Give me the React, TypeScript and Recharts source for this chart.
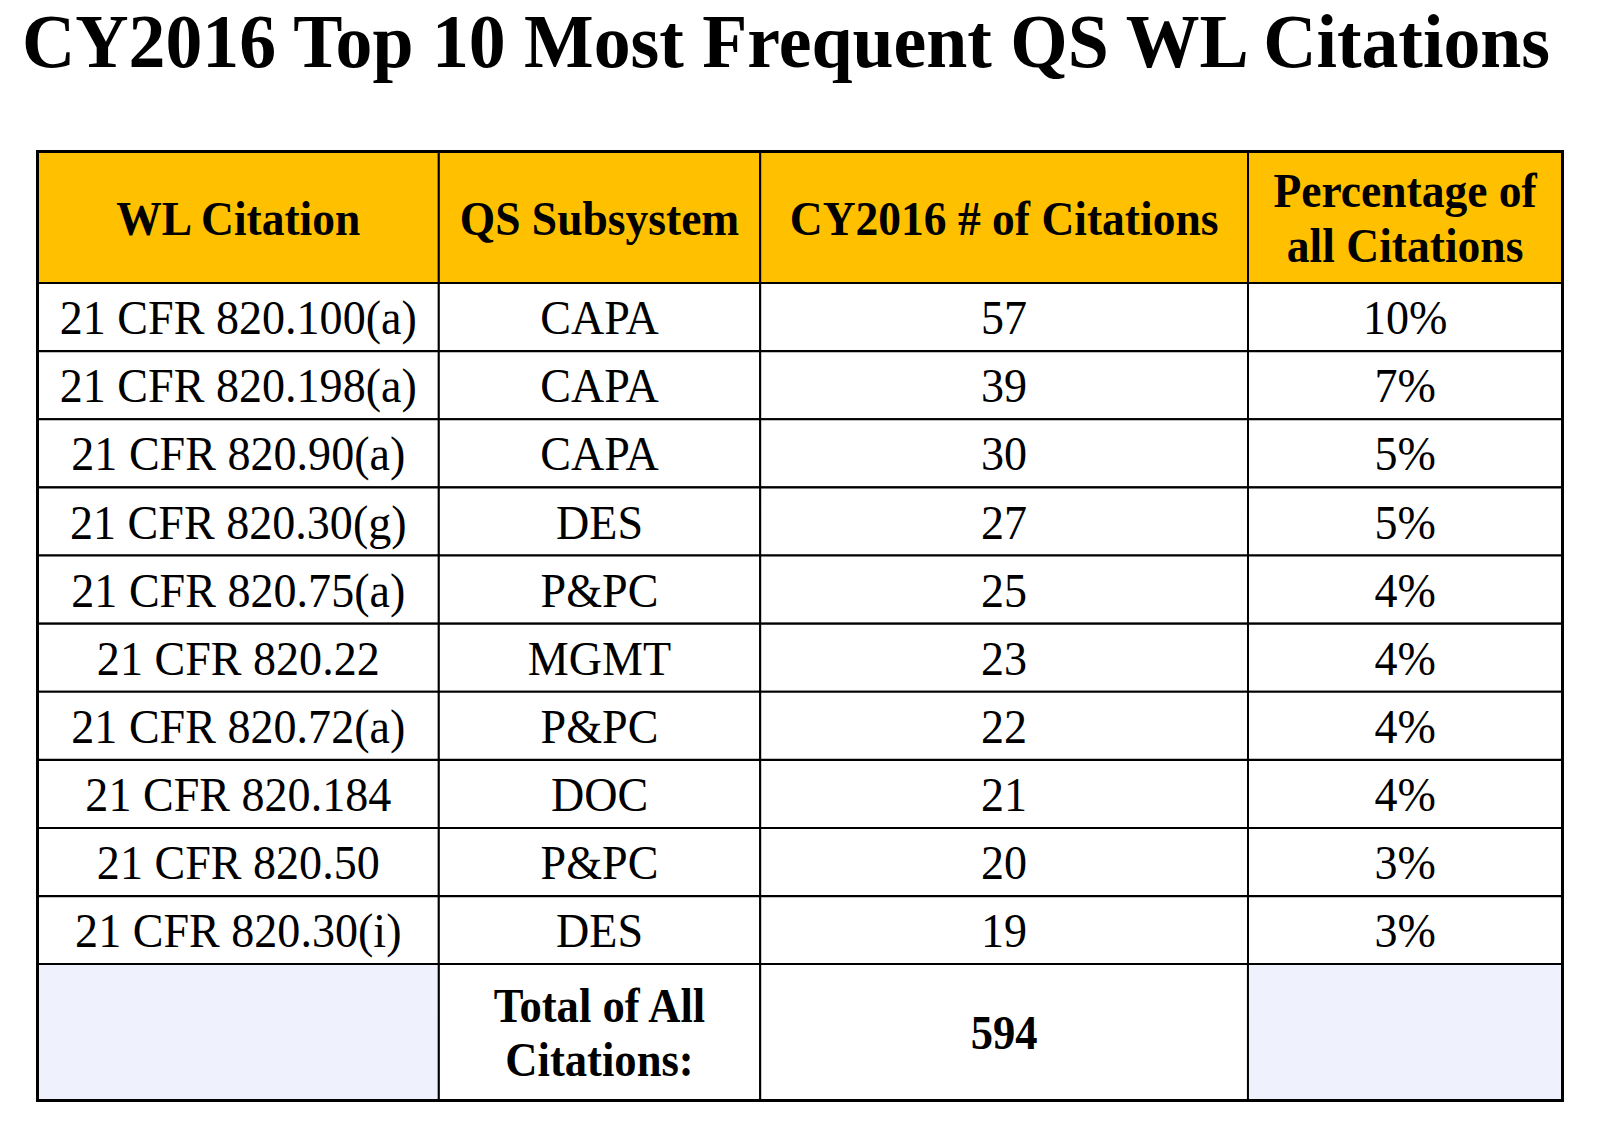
import { BarChart, Bar, XAxis, YAxis, LabelList } from "recharts";

const title = "CY2016 Top 10 Most Frequent QS WL Citations";
const headers = ["WL Citation", "QS Subsystem", "CY2016 # of Citations", "Percentage of\nall Citations"];
const citations = [
  "21 CFR 820.100(a)",
  "21 CFR 820.198(a)",
  "21 CFR 820.90(a)",
  "21 CFR 820.30(g)",
  "21 CFR 820.75(a)",
  "21 CFR 820.22",
  "21 CFR 820.72(a)",
  "21 CFR 820.184",
  "21 CFR 820.50",
  "21 CFR 820.30(i)",
];
const subsystems = ["CAPA", "CAPA", "CAPA", "DES", "P&PC", "MGMT", "P&PC", "DOC", "P&PC", "DES"];
const counts = [57, 39, 30, 27, 25, 23, 22, 21, 20, 19];
const percents = ["10%", "7%", "5%", "5%", "4%", "4%", "4%", "4%", "3%", "3%"];
const totalLabel = "Total of All\nCitations:";
const totalCount = 594;

// layout (pixels)
const COL_W = [401, 321.4, 487.8, 314.2];
const TABLE_W = COL_W.reduce((a, b) => a + b, 0);
const LEFT = 37.8;
const PAD = 4;
const GOLD = "#FFC000";
const LAVENDER = "#EFF2FD";
const FONT = "'Liberation Serif', 'Times New Roman', serif";

type Row = Record<string, string | number>;

const makeRow = (key: string, texts: (string | number)[]): Row => {
  const row: Row = { key };
  COL_W.forEach((w, i) => {
    row[`c${i}`] = w;
    row[`t${i}`] = texts[i];
  });
  return row;
};

const headerRows = [makeRow("header", headers)];
const bodyRows = citations.map((c, i) => makeRow(`r${i}`, [c, subsystems[i], counts[i], percents[i]]));
const totalRows = [makeRow("total", ["", totalLabel, totalCount, ""])];

const cellText = (fontSize: number, weight: string, squeeze: number) => (props: any) => {
  const x = Number(props.x);
  const y = Number(props.y);
  const w = Number(props.width);
  const h = Number(props.height);
  const value = props.value;
  if (value === "" || value === undefined || value === null) return null;
  const lines = String(value).split("\n");
  const gap = fontSize * 1.12;
  const cx = x + w / 2;
  const base = y + h / 2 + fontSize * 0.355 - ((lines.length - 1) * gap) / 2;
  return (
    <g>
      {lines.map((line, i) => (
        <text
          key={i}
          transform={`translate(${cx},${base + i * gap}) scale(${squeeze},1)`}
          textAnchor="middle"
          fontFamily={FONT}
          fontSize={fontSize}
          fontWeight={weight}
          fill="#000"
        >
          {line}
        </text>
      ))}
    </g>
  );
};

function TableBand({
  rows,
  top,
  height,
  fills,
  fontSize,
  weight,
  squeeze,
}: {
  rows: Row[];
  top: number;
  height: number;
  fills: string[];
  fontSize: number;
  weight: string;
  squeeze: number;
}) {
  return (
    <div style={{ position: "absolute", left: 0, top: top - PAD }}>
      <BarChart
        width={1600}
        height={height + PAD * 2}
        layout="vertical"
        data={rows}
        barCategoryGap={0}
        margin={{ top: PAD, bottom: PAD, left: LEFT, right: 1600 - LEFT - TABLE_W }}
      >
        <XAxis type="number" domain={[0, TABLE_W]} allowDataOverflow hide />
        <YAxis type="category" dataKey="key" width={0} hide />
        {COL_W.map((_, i) => (
          <Bar
            key={i}
            dataKey={`c${i}`}
            stackId="row"
            fill={fills[i]}
            stroke="#000"
            strokeWidth={2}
            isAnimationActive={false}
          >
            <LabelList dataKey={`t${i}`} content={cellText(fontSize, weight, squeeze)} />
          </Bar>
        ))}
      </BarChart>
    </div>
  );
}

export default function App() {
  return (
    <div style={{ position: "absolute", left: 0, top: 0, width: 1600, height: 1125, background: "#fff" }}>
      <svg width={1600} height={100} style={{ position: "absolute", left: 0, top: 0 }}>
        <text
          x={22}
          y={66.5}
          textLength={1528}
          lengthAdjust="spacingAndGlyphs"
          fontFamily={FONT}
          fontSize={76}
          fontWeight="bold"
          fill="#000"
        >
          {title}
        </text>
      </svg>
      <TableBand rows={headerRows} top={151} height={132} fills={[GOLD, GOLD, GOLD, GOLD]} fontSize={49.5} weight="bold" squeeze={0.92} />
      <TableBand rows={bodyRows} top={283} height={681.3} fills={["#fff", "#fff", "#fff", "#fff"]} fontSize={48.5} weight="normal" squeeze={0.95} />
      <TableBand rows={totalRows} top={964.3} height={135.7} fills={[LAVENDER, "#fff", "#fff", LAVENDER]} fontSize={48.5} weight="bold" squeeze={0.92} />
      <div
        style={{
          position: "absolute",
          left: LEFT - 1.5,
          top: 151 - 1.5,
          width: TABLE_W + 3,
          height: 1100 - 151 + 3,
          border: "3px solid #000",
          boxSizing: "border-box",
          pointerEvents: "none",
        }}
      />
    </div>
  );
}
